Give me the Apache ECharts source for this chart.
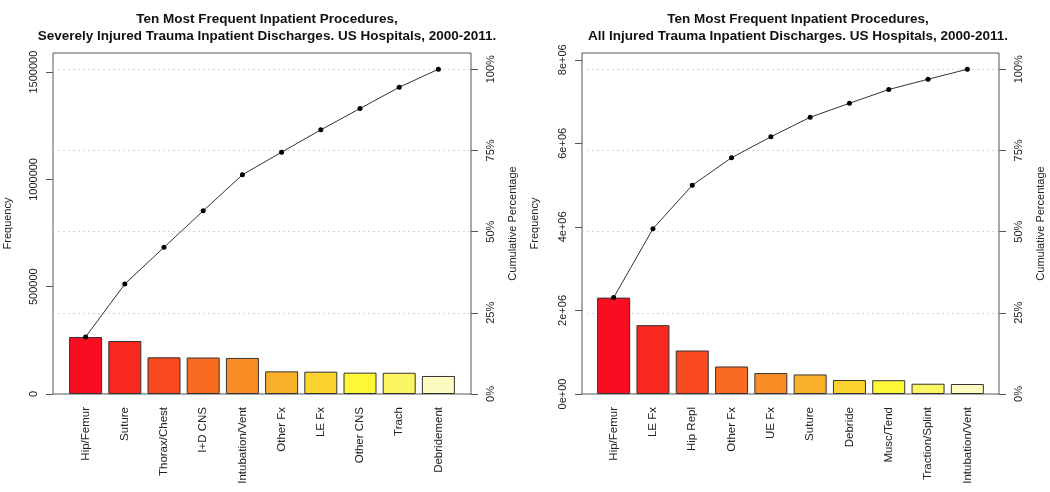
<!DOCTYPE html>
<html>
<head>
<meta charset="utf-8">
<script src="https://cdn.jsdelivr.net/npm/echarts@6/dist/echarts.min.js"></script>
<style>
  html, body { margin: 0; padding: 0; background: #fff; }
  #chart { width: 1050px; height: 492px; }
</style>
</head>
<body>
<div id="chart"></div>
<script>
// data
var sevNames = ['Hip/Femur', 'Suture', 'Thorax/Chest', 'I+D CNS', 'Intubation/Vent',
                'Other Fx', 'LE Fx', 'Other CNS', 'Trach', 'Debridement'];
var sevFreq = [265500, 247000, 171000, 170000, 168000, 105500, 104000, 99500, 99000, 84000];

var allNames = ['Hip/Femur', 'LE Fx', 'Hip Repl', 'Other Fx', 'UE Fx',
                'Suture', 'Debride', 'Musc/Tend', 'Traction/Splint', 'Intubation/Vent'];
var allFreq = [2307000, 1648000, 1041000, 659000, 501000, 468000, 334000, 330000, 246000, 239000];

// tick labels
var sevTicks = [0, 500000, 1000000, 1500000];
var sevTickLabels = ['0', '500000', '1000000', '1500000'];
var allTicks = [0, 2000000, 4000000, 6000000, 8000000];
var allTickLabels = ['0e+00', '2e+06', '4e+06', '6e+06', '8e+06'];
var pctTicks = [0, 25, 50, 75, 100];

// heat colours, one per bar
var palette = ['#F90D20', '#F9281F', '#FA4A1F', '#FA6B22', '#FA8D26',
               '#FBB02C', '#FCD231', '#FDF736', '#FDF663', '#FEFBC2'];

var FONT = 'Liberation Sans, Arial, sans-serif';
var TXT = '#222';

function cumsum(a) {
  var s = 0;
  return a.map(function (v) { s += v; return s; });
}
function total(a) {
  return a.reduce(function (p, v) { return p + v; }, 0);
}

var myChart = echarts.init(document.getElementById('chart'));

// one panel = category axis, two value axes, bars + cumulative line
function panel(idx, names, freq, ticks, tickLabels, off) {
  var gi = idx + 2;
  var tot = total(freq);
  var x = {
    type: 'category', gridIndex: gi, data: names,
    axisLine: { show: false }, axisTick: { show: false },
    axisLabel: { rotate: 90, margin: 13, interval: 0, fontSize: 11.5, color: TXT, fontFamily: FONT }
  };
  var yl = {
    type: 'value', gridIndex: gi, position: 'left', offset: off,
    min: 0, max: tot * 1.05,
    axisLine: { show: false },
    axisTick: { show: true, length: 7, customValues: ticks, lineStyle: { color: '#555' } },
    axisLabel: {
      rotate: 90, margin: 14, fontSize: 11, color: TXT, fontFamily: FONT,
      customValues: ticks,
      formatter: function (v) { return tickLabels[ticks.indexOf(v)]; }
    },
    splitLine: { show: false },
    name: 'Frequency', nameLocation: 'middle', nameRotate: 90, nameGap: idx ? 42 : 40,
    nameTextStyle: { fontSize: 11, color: TXT, fontFamily: FONT }
  };
  var yr = {
    type: 'value', gridIndex: gi, position: 'right', offset: off,
    min: 0, max: 105, interval: 25,
    axisLine: { show: false },
    axisTick: { show: true, length: 7, customValues: pctTicks, lineStyle: { color: '#555' } },
    axisLabel: {
      rotate: 90, margin: 14, fontSize: 11, color: TXT, fontFamily: FONT,
      customValues: pctTicks,
      formatter: '{value}%'
    },
    splitLine: { show: false },
    name: 'Cumulative Percentage', nameLocation: 'middle', nameRotate: 90, nameGap: 36,
    nameTextStyle: { fontSize: 11, color: TXT, fontFamily: FONT }
  };
  var bars = {
    type: 'bar', xAxisIndex: idx, yAxisIndex: idx * 2,
    data: freq, barWidth: 33,
    itemStyle: {
      borderColor: '#333', borderWidth: 1,
      color: function (p) { return palette[p.dataIndex]; }
    }
  };
  var line = {
    type: 'line', xAxisIndex: idx, yAxisIndex: idx * 2,
    data: cumsum(freq), z: 5,
    symbol: 'circle', symbolSize: 5,
    itemStyle: { color: '#000' },
    lineStyle: { color: '#333', width: 1 }
  };
  return { x: x, y: [yl, yr], s: [bars, line] };
}

// invisible axes on the frame grids, only for the dotted percentage guides
function frameAxes(gi) {
  return {
    x: { type: 'value', gridIndex: gi, min: 0, max: 1,
         axisLine: { show: false }, axisTick: { show: false },
         axisLabel: { show: false }, splitLine: { show: false } },
    y: { type: 'value', gridIndex: gi, min: 0, max: 105, interval: 25,
         axisLine: { show: false }, axisTick: { show: false }, axisLabel: { show: false },
         splitLine: { show: true, showMinLine: false, showMaxLine: false,
                      lineStyle: { color: '#d6d6d6', type: [2, 3], width: 1 } } }
  };
}

var p1 = panel(0, sevNames, sevFreq, sevTicks, sevTickLabels, 13);
var p2 = panel(1, allNames, allFreq, allTicks, allTickLabels, 12);
var f1 = frameAxes(0);
var f2 = frameAxes(1);

var titleStyle = { fontSize: 13.5, fontWeight: 'bold', lineHeight: 17, color: '#111', fontFamily: FONT };

var option = {
  animation: false,
  backgroundColor: '#fff',
  title: [
    { text: 'Ten Most Frequent Inpatient Procedures,\nSeverely Injured Trauma Inpatient Discharges. US Hospitals, 2000-2011.',
      left: 262, top: 6, textAlign: 'center', textStyle: titleStyle },
    { text: 'Ten Most Frequent Inpatient Procedures,\nAll Injured Trauma Inpatient Discharges. US Hospitals, 2000-2011.',
      left: 793, top: 6, textAlign: 'center', textStyle: titleStyle }
  ],
  grid: [
    // frames
    { left: 53, top: 53, width: 418, height: 341, show: true, borderColor: '#555', borderWidth: 1 },
    { left: 582, top: 53, width: 417, height: 341, show: true, borderColor: '#555', borderWidth: 1 },
    // plotting areas
    { left: 66, top: 53, width: 392, height: 341 },
    { left: 594, top: 53, width: 393, height: 341 }
  ],
  xAxis: [p1.x, p2.x, f1.x, f2.x],
  yAxis: p1.y.concat(p2.y, [f1.y, f2.y]),
  series: p1.s.concat(p2.s)
};

myChart.setOption(option);
</script>
</body>
</html>
